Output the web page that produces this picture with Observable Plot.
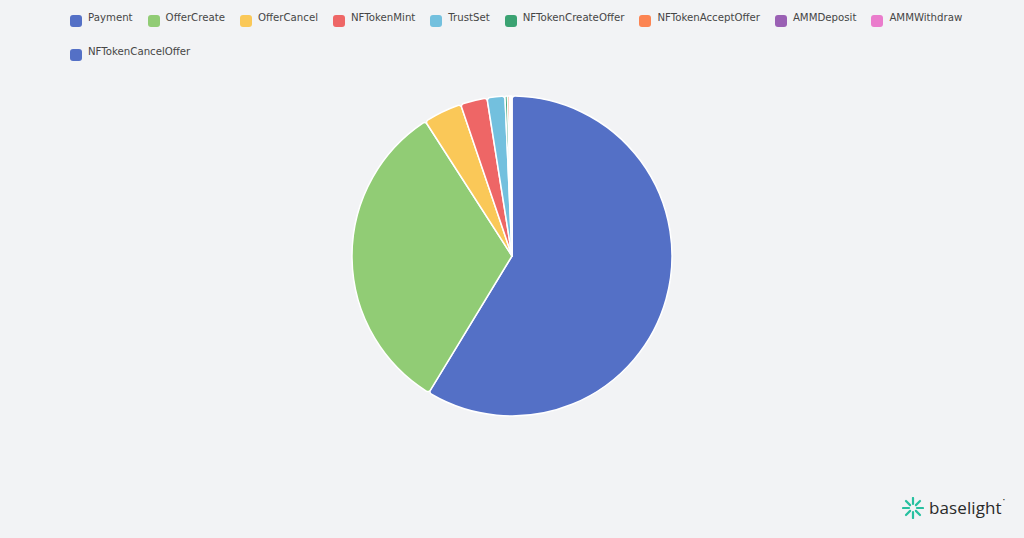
<!DOCTYPE html>
<html><head><meta charset="utf-8">
<script src="https://cdn.jsdelivr.net/npm/d3@7"></script>
<script src="https://cdn.jsdelivr.net/npm/@observablehq/plot@0.6"></script>
<style>
html,body{margin:0;padding:0;background:#f2f3f5;}
#wrap{position:relative;width:1024px;height:538px;overflow:hidden;background:#f2f3f5;}
#chart{position:absolute;left:0;top:0;}
#legend{position:absolute;left:70px;top:11px;width:930px;}
#legend style{display:none !important;}
#legend .lg-swatches{display:flex !important;flex-wrap:wrap !important;align-items:flex-start !important;row-gap:19px;margin:0 !important;min-height:0 !important;font-family:"DejaVu Sans",sans-serif !important;font-size:10.2px !important;color:#464646 !important;background:transparent !important;}
#legend .lg-swatch{display:inline-flex !important;align-items:flex-start !important;margin-right:15px !important;line-height:14px;height:15px;white-space:nowrap;}
#legend .lg-swatch svg{margin-right:6px !important;margin-top:4px;width:12px;height:12px;border-radius:3px;overflow:hidden !important;}
#logo{position:absolute;left:902px;top:496px;display:flex;align-items:center;}
#logo span{font-family:"Open Sans",sans-serif;font-size:17px;color:#2a2a2a;margin-left:5px;letter-spacing:0.1px;}
#logo sup{font-size:6px;color:#2a2a2a;vertical-align:top;margin-left:1px;}
#err{position:absolute;left:10px;top:200px;color:red;font:12px monospace;}
</style>
</head><body>
<div id="wrap">
  <div id="chart"></div>
  <div id="legend"></div>
  <div id="logo">
    <svg width="22" height="22" viewBox="-11 -11 22 22">
      <g stroke="#27c0a0" stroke-width="2.2" stroke-linecap="round">
        <line x1="0" y1="-4" x2="0" y2="-10"/>
        <line x1="0" y1="4" x2="0" y2="10"/>
        <line x1="-4" y1="0" x2="-10" y2="0"/>
        <line x1="4" y1="0" x2="10" y2="0"/>
        <line x1="2.9" y1="-2.9" x2="7" y2="-7"/>
        <line x1="-2.9" y1="-2.9" x2="-7" y2="-7"/>
        <line x1="2.9" y1="2.9" x2="7" y2="7"/>
        <line x1="-2.9" y1="2.9" x2="-7" y2="7"/>
      </g>
    </svg>
    <span>baselight<sup>•</sup></span>
  </div>
  <div id="err"></div>
</div>
<script>
const types = ["Payment","OfferCreate","OfferCancel","NFTokenMint","TrustSet","NFTokenCreateOffer","NFTokenAcceptOffer","AMMDeposit","AMMWithdraw","NFTokenCancelOffer"];
const shares = [58.7, 32.2, 3.9, 2.7, 1.8, 0.25, 0.2, 0.1, 0.08, 0.07];
const colors = ["#5470c6","#91cc75","#fac858","#ee6666","#73c0de","#3ba272","#fc8452","#9a60b4","#ea7ccc","#5470c6"];

const rows = types.map((t, i) => ({type: t, value: shares[i]}));

try {
  function pieMark(index, scales, values, dimensions) {
    const cx = dimensions.width / 2, cy = dimensions.height / 2;
    const idx = d3.range(rows.length);
    const arcs = d3.pie().sort(null).value(i => rows[i].value)(idx);
    const arc = d3.arc().innerRadius(0).outerRadius(160).cornerRadius(3);
    const g = d3.create("svg:g").attr("transform", `translate(${cx},${cy})`);
    g.selectAll("path").data(arcs).join("path")
      .attr("d", arc)
      .attr("fill", d => scales.color(rows[d.data].type))
      .attr("stroke", "#ffffff")
      .attr("stroke-width", 1.5)
      .attr("stroke-linejoin", "round");
    return g.node();
  }

  const plot = Plot.plot({
    width: 1024,
    height: 512,
    margin: 0,
    style: {background: "transparent"},
    color: {type: "ordinal", domain: types, range: colors},
    marks: [
      Plot.dot(rows, {fill: "type", r: 0}),
      pieMark
    ]
  });
  document.getElementById("chart").appendChild(plot);

  const legend = plot.legend("color", {swatchSize: 12, className: "lg"});
  document.getElementById("legend").appendChild(legend);
} catch (e) {
  document.getElementById("err").textContent = String(e && e.stack || e);
}
</script>
</body></html>
